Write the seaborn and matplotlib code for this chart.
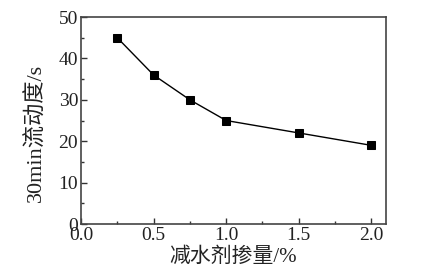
import matplotlib
matplotlib.use("Agg")
import matplotlib.pyplot as plt
import seaborn as sns
import pandas as pd
from matplotlib.ticker import MultipleLocator

dosage = [0.25, 0.5, 0.75, 1.0, 1.5, 2.0]
fluidity = [45, 36, 30, 25, 22, 19]
xlabel = "减水剂掺量/%"
ylabel = "30min流动度/s"

sns.set_theme(style="ticks")
plt.rcParams['font.family'] = ['Liberation Serif', 'Noto Sans CJK SC']

df = pd.DataFrame({"x": dosage, "y": fluidity})
fig = plt.figure(figsize=(4.26, 2.79), dpi=100)
ax = fig.add_axes([0.190, 0.197, 0.716, 0.742])
sns.lineplot(data=df, x="x", y="y", ax=ax, color="black", lw=1.0,
             marker="s", markersize=5.5, markeredgecolor="black", markerfacecolor="black")
ax.set_xlim(0, 2.1)
ax.set_ylim(0, 50)
ax.xaxis.set_major_locator(MultipleLocator(0.5))
ax.xaxis.set_minor_locator(MultipleLocator(0.25))
ax.yaxis.set_major_locator(MultipleLocator(10))
ax.yaxis.set_minor_locator(MultipleLocator(5))
ax.tick_params(which="both", direction="in", top=False, right=False, colors="#333333",
               labelcolor="#222222", labelsize=14, pad=2)
ax.tick_params(which="major", length=4, width=1)
ax.tick_params(which="minor", length=2.5, width=1)
for s in ax.spines.values():
    s.set_color("#444444")
    s.set_linewidth(1.2)
ax.set_xlabel(xlabel, fontsize=15, color="#222222", labelpad=3)
ax.set_ylabel(ylabel, fontsize=16, color="#222222", va="center")
ax.yaxis.set_label_coords(-0.148, 0.44)
fig.savefig("out.png", dpi=100)
